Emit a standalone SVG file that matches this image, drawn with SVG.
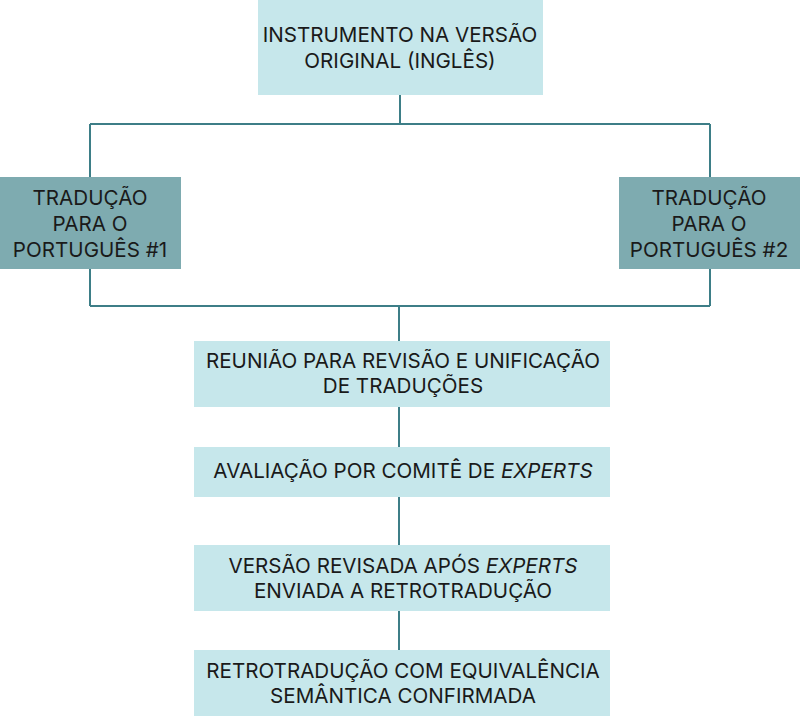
<svg xmlns="http://www.w3.org/2000/svg" width="800" height="716" viewBox="0 0 800 716">
<style>
.lt{fill:#c6e7eb}
.dk{fill:#7eabb0}
.t{font-family:Inter,"Open Sans",sans-serif;font-size:20.6px;fill:#1a1a1a;text-anchor:middle}
.c{stroke:#3d7e87;stroke-width:2;fill:none}
</style>
<rect width="800" height="716" fill="#ffffff"/>
<g id="connectors">
<path class="c" d="M400 95V124M90 124H710M90 124V177M710 124V177M90 269V306M710 269V306M90 306H710M399 306V341M399 407V447M399 497V545M399 611V650"/>
</g>
<g id="n1"><rect class="lt" x="258" y="0" width="285" height="95"/>
<text class="t" x="400" y="42">INSTRUMENTO NA VERSÃO</text><text class="t" x="400" y="68">ORIGINAL (INGLÊS)</text></g>
<g id="n2"><rect class="dk" x="0" y="177" width="181" height="92"/>
<text class="t" x="90" y="205">TRADUÇÃO</text><text class="t" x="90" y="231">PARA O</text><text class="t" x="90" y="257">PORTUGUÊS #1</text></g>
<g id="n3"><rect class="dk" x="619" y="177" width="181" height="92"/>
<text class="t" x="709" y="205">TRADUÇÃO</text><text class="t" x="709" y="231">PARA O</text><text class="t" x="709" y="257">PORTUGUÊS #2</text></g>
<g id="n4"><rect class="lt" x="194" y="341" width="416" height="66"/>
<text class="t" x="403" y="368">REUNIÃO PARA REVISÃO E UNIFICAÇÃO</text><text class="t" x="403" y="393">DE TRADUÇÕES</text></g>
<g id="n5"><rect class="lt" x="194" y="447" width="416" height="50"/>
<text class="t" x="403" y="478">AVALIAÇÃO POR COMITÊ DE <tspan font-style="italic">EXPERTS</tspan></text></g>
<g id="n6"><rect class="lt" x="194" y="545" width="416" height="66"/>
<text class="t" x="403" y="573">VERSÃO REVISADA APÓS <tspan font-style="italic">EXPERTS</tspan></text><text class="t" x="403" y="598">ENVIADA A RETROTRADUÇÃO</text></g>
<g id="n7"><rect class="lt" x="194" y="650" width="416" height="66"/>
<text class="t" x="403" y="678">RETROTRADUÇÃO COM EQUIVALÊNCIA</text><text class="t" x="403" y="703">SEMÂNTICA CONFIRMADA</text></g>
</svg>
